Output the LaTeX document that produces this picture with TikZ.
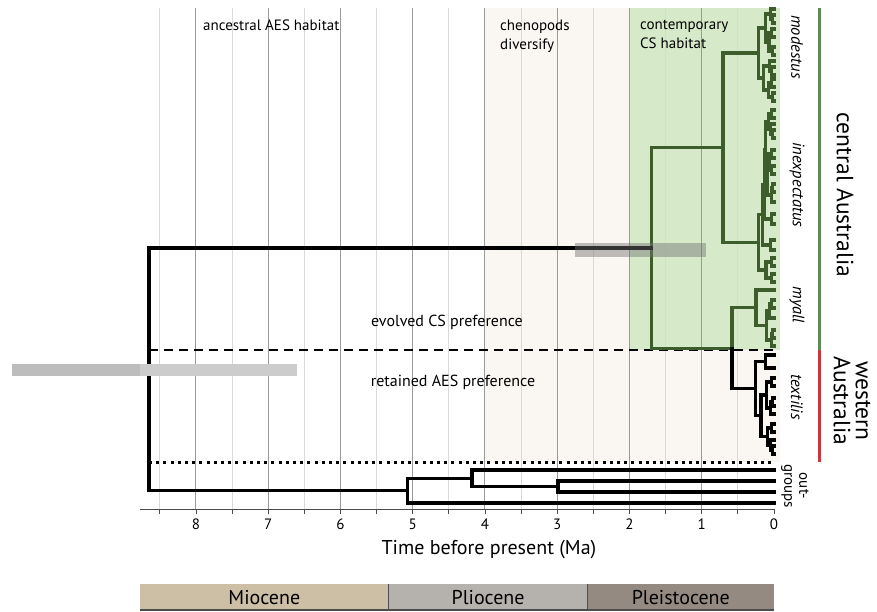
\documentclass[tikz,border=0pt]{standalone}
\usepackage{fontspec}
\setmainfont{PT Sans}
\usetikzlibrary{positioning}
\definecolor{cladegreen}{HTML}{3D5E2C}
\definecolor{csgreen}{HTML}{D6E9C9}
\definecolor{chenobg}{HTML}{FAF6F2}
\definecolor{centralbar}{HTML}{5E8A55}
\definecolor{westernbar}{HTML}{C8363E}
\definecolor{miocene}{HTML}{CDBFA6}
\definecolor{pliocene}{HTML}{B5B2AE}
\definecolor{pleistocene}{HTML}{958A82}
\begin{document}
\begin{tikzpicture}[x=-72.25pt,y=-1pt]
        \tikzstyle{branch}=[line width=3.2pt,black,line cap=rect]
        \tikzstyle{csbranch}=[branch,draw=cladegreen]
        \tikzstyle{majorgrid}=[draw=black!40,line width=1pt]
        \tikzstyle{minorgrid}=[draw=black!15,line width=1pt]
        \tikzstyle{habitat}=[anchor=north west,align=left,inner sep=0pt,font=\fontsize{15pt}{19pt}\selectfont]
        \tikzstyle{pref}=[inner sep=0pt,font=\fontsize{16pt}{17pt}\selectfont]
        \tikzstyle{taxon}=[rotate=-90,inner sep=0pt,font=\fontsize{16.5pt}{16pt}\selectfont\itshape]
        \tikzstyle{region}=[rotate=-90,align=center,inner sep=0pt,font=\fontsize{23.5pt}{22pt}\selectfont]
        \tikzstyle{ticklabel}=[inner sep=0pt,font=\fontsize{15pt}{15pt}\selectfont]
        \tikzstyle{epochname}=[font=\fontsize{20pt}{20pt}\selectfont]
        \tikzstyle{epoch}=[draw=black!70,line width=1.2pt]
        \tikzstyle{hpd}=[fill=black!55,opacity=0.45]
        \useasboundingbox (10.7128,0) rectangle (-1.4256,612);
       \begin{scope}
         \fill[chenobg] (4,8) rectangle (-0.083,462);
         \fill[csgreen] (2,8) rectangle (-0.083,350);
         \foreach \t in {0.5,1.5,...,8.5} \draw[minorgrid] (\t,8) -- (\t,509);
         \foreach \t in {1,...,8} \draw[majorgrid] (\t,8) -- (\t,509);
       \end{scope}
       \begin{scope}
         \draw[line width=1pt,black!70] (8.78,509) -- (0,509);
         \foreach \t in {0,0.5,...,8.5} \draw[line width=0.8pt,black!70] (\t,509) -- (\t,514);
         \foreach \t in {0,...,8} \node[ticklabel] (tick\t) at (\t,524) {\t};
         \node[font=\fontsize{20pt}{20pt}\selectfont] (timeaxis) at (3.945,550) {Time before present (Ma)};
       \end{scope}
       \begin{scope}
         \draw[dashed,line width=2.2pt,dash pattern=on 9pt off 6pt] (8.65,350) -- (0,350);
         \draw[line width=3pt,dash pattern=on 3pt off 4.2pt] (8.65,462) -- (0,462);
       \end{scope}
       \begin{scope}
         \coordinate (root) at (8.65,369.2);
         \coordinate (crown) at (1.69,247.94);
         \coordinate (upper) at (0.706,147.69);
         \coordinate (mt) at (0.58,348.19);
         \coordinate (modestus) at (0.22,53);
         \coordinate (inexp) at (0.22,242.375);
         \coordinate (myall) at (0.25,307.75);
         \coordinate (textilis) at (0.26,388.625);
         \coordinate (og) at (5.07,490.625);
         \coordinate (ogA) at (4.18,478.25);
         \coordinate (ogB) at (2.99,486.5);
         \coordinate (og1) at (0,470);
         \coordinate (og2) at (0,481);
         \coordinate (og3) at (0,492);
         \coordinate (og4) at (0,503);
         \foreach \t/\a/\ca/\b/\cb in {0.02/15/0/23/0, 0.05/9/0/19/0.02, 0.03/29/0/37/0, 0.02/47/0/55/0, 0.07/33/0.03/51/0.02, 0.12/14/0.05/42/0.07, 0.03/67/0/75/0, 0.06/61/0/71/0.03, 0.04/79/0/87/0, 0.02/93/0/101/0, 0.08/83/0.04/97/0.02, 0.15/66/0.06/90/0.08, 0.22/28/0.12/78/0.15,
           0.03/110/0/118/0, 0.02/130/0/138/0, 0.05/124/0/134/0.02, 0.08/114/0.03/129/0.05, 0.03/150/0/158/0, 0.04/166/0/174/0, 0.07/154/0.03/170/0.04, 0.02/184/0/192/0, 0.04/188/0.02/202/0, 0.09/162/0.07/195/0.04, 0.12/121.5/0.08/178.5/0.09, 0.03/214/0/224/0, 0.13/150/0.12/219/0.03, 0.05/240/0/250/0, 0.16/184.5/0.13/245/0.05, 0.04/258/0/266/0, 0.03/274/0/282/0, 0.11/262/0.04/278/0.03, 0.22/214.75/0.16/270/0.11,
           0.03/300/0/308/0, 0.06/304/0.03/318/0, 0.02/330/0/338/0, 0.04/334/0.02/346/0, 0.10/311/0.06/340/0.04, 0.25/290/0/325.5/0.10}
           \draw[csbranch] (\ca,\a) -| (\t,\b) -- (\cb,\b);
         \foreach \t/\a/\ca/\b/\cb in {0.12/355/0/368/0, 0.03/378/0/386/0, 0.02/398/0/406/0, 0.05/402/0.02/414/0, 0.10/382/0.03/408/0.05, 0.03/424/0/432/0, 0.02/446/0/454/0, 0.05/440/0/450/0.02, 0.09/428/0.03/445/0.05, 0.18/395/0.10/436.5/0.09, 0.26/361.5/0.12/415.75/0.18}
           \draw[branch] (\ca,\a) -| (\t,\b) -- (\cb,\b);
         \draw[csbranch] (modestus) -| (upper) |- (inexp);
         \draw[csbranch] (upper) -| (crown) |- (mt);
         \draw[csbranch] (myall) -| (mt);
         \draw[branch] (textilis) -| (mt);
         \draw[branch] (crown) -| (root) |- (og);
         \draw[branch] (ogA) -| (og) |- (og4);
         \draw[branch] (og1) -| (ogA) |- (ogB);
         \draw[branch] (og2) -| (ogB) |- (og3);
         \draw[line width=2pt,black!60] (root) -- ++(0.055,0);
       \end{scope}
       \begin{scope}
         \fill[hpd] (2.754,243) rectangle (0.941,257);
         \fill[black!26] (10.547,364) rectangle (8.775,376);
         \fill[black!20] (8.775,364) rectangle (6.602,376);
       \end{scope}
       \begin{scope}
         \draw[line width=3pt,centralbar] (-0.623,8) -- (-0.623,350);
         \draw[line width=3pt,westernbar] (-0.623,350) -- (-0.623,462);
         \node[region] (central) at (-0.983,195) {central Australia};
         \node[region] (western) at (-1.08,401) {western\\Australia};
         \node[taxon] (tmodestus) at (-0.318,47) {modestus};
         \node[taxon] (tinexp) at (-0.318,185) {inexpectatus};
         \node[taxon] (tmyall) at (-0.318,305) {myall};
         \node[taxon] (ttextilis) at (-0.318,397) {textilis};
         \node[rotate=-90,align=center,inner sep=0pt,font=\fontsize{15pt}{15pt}\selectfont] (outgroups) at (-0.29,486) {out-\\groups};
       \end{scope}
       \begin{scope}
         \node[habitat] (ancestral) at (7.903,20) {ancestral AES habitat};
         \node[habitat] (cheno) at (3.792,20) {chenopods\\diversify};
         \node[habitat] (contemp) at (1.855,20) {contemporary\\CS habitat};
         \node[pref] (evolved) at (4.526,322) {evolved CS preference};
         \node[pref] (retained) at (4.443,382) {retained AES preference};
       \end{scope}
       \begin{scope}
         \fill[miocene] (8.775,584) rectangle (5.333,610);
         \fill[pliocene] (5.333,584) rectangle (2.58,610);
         \fill[pleistocene] (2.58,584) rectangle (0,610);
         \draw[epoch] (5.333,584) -- (5.333,610);
         \draw[epoch] (2.58,584) -- (2.58,610);
         \draw[epoch] (8.775,610) -- (0,610);
         \node[epochname] (mio) at (7.054,598) {Miocene};
         \node[epochname] (plio) at (3.957,598) {Pliocene};
         \node[epochname] (pleisto) at (1.29,598) {Pleistocene};
       \end{scope}
      \end{tikzpicture}
\end{document}
